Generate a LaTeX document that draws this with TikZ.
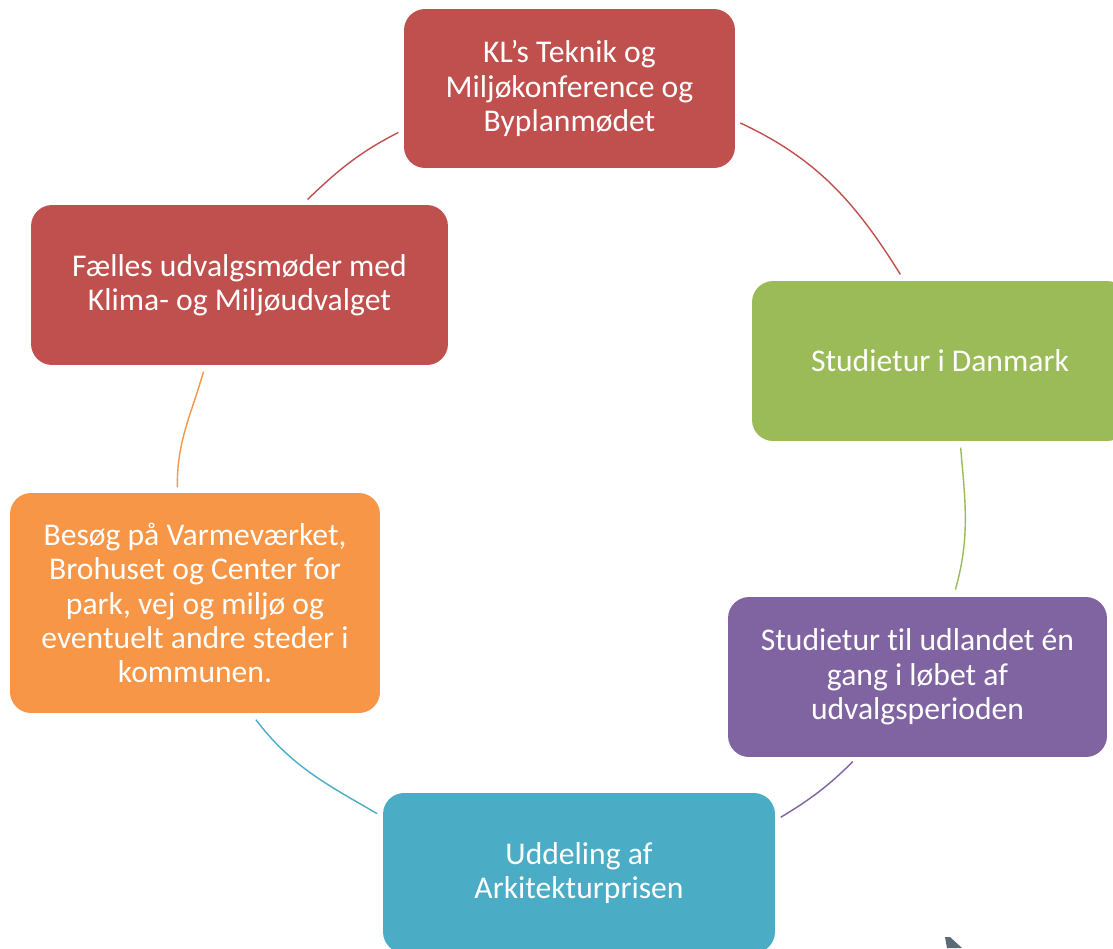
\documentclass[tikz,border=0pt]{standalone}
\usepackage{fontspec}
\setmainfont{Carlito}[Ligatures=NoCommon]
\usetikzlibrary{shapes}

\definecolor{klred}{HTML}{C0504D}
\definecolor{dkgreen}{HTML}{9BBB59}
\definecolor{udlpurple}{HTML}{8064A2}
\definecolor{prisblue}{HTML}{4BACC6}
\definecolor{besorange}{HTML}{F79646}
\definecolor{tipgray}{HTML}{5B6B75}

\begin{document}
\begin{tikzpicture}[x=0.02cm, y=-0.02cm, line width=0.8pt]
 \tikzstyle{phase}=[rounded corners=12pt, text=white, align=center, inner sep=0pt, font=\fontsize{18}{19.6}\selectfont]
 \useasboundingbox (0,0) rectangle (1113,948);
 \clip (0,0) rectangle (1113,948);

 \node (kl) at (569.5,88.5) [phase, fill=klred, minimum width=6.62cm, minimum height=3.18cm] {KL's Teknik og\\Miljøkonference og\\Byplanmødet};
 \node (dk) at (940,361) [phase, fill=dkgreen, minimum width=7.52cm, minimum height=3.2cm] {Studietur i Danmark};
 \node (udl) at (917.5,677) [phase, fill=udlpurple, minimum width=7.58cm, minimum height=3.2cm] {Studietur til udlandet én\\gang i løbet af\\udvalgsperioden};
 \node (pris) at (579,873) [phase, fill=prisblue, minimum width=7.84cm, minimum height=3.2cm] {Uddeling af\\Arkitekturprisen};
 \node (besog) at (195,603) [phase, fill=besorange, minimum width=7.4cm, minimum height=4.4cm] {Besøg på Varmeværket,\\Brohuset og Center for\\park, vej og miljø og\\eventuelt andre steder i\\kommunen.};
 \node (faelles) at (239.5,285) [phase, fill=klred, minimum width=8.34cm, minimum height=3.2cm] {Fælles udvalgsmøder med\\Klima- og Miljøudvalget};

 % the cycle, one arc per step
 \draw [klred, shorten <=0.1cm, shorten >=0.14cm] (kl.-11.8) to[out=-25, in=122] (dk.114.2);
 \draw [dkgreen, shorten <=0.12cm, shorten >=0.14cm] (dk.-76) to[out=-85, in=74] (udl.66.1);
 \draw [udlpurple, shorten <=0.11cm, shorten >=0.12cm] (udl.-127.1) to[out=-135, in=31] (pris.15.1);
 \draw [prisblue, shorten <=0.12cm, shorten >=0.15cm] (pris.164.9) to[out=150, in=-53] (besog.-63.2);
 \draw [besorange, shorten <=0.1cm, shorten >=0.12cm] (besog.99.3) to[out=91, in=-106] (faelles.-113.3);
 \draw [klred, shorten <=0.14cm, shorten >=0.11cm] (faelles.52.9) to[out=44, in=-153] (kl.-166.1);

 \fill [tipgray] (945,937) -- (950,937) -- (962,948) -- (947,948) -- cycle; % cut-off shape in the corner
\end{tikzpicture}
\end{document}
